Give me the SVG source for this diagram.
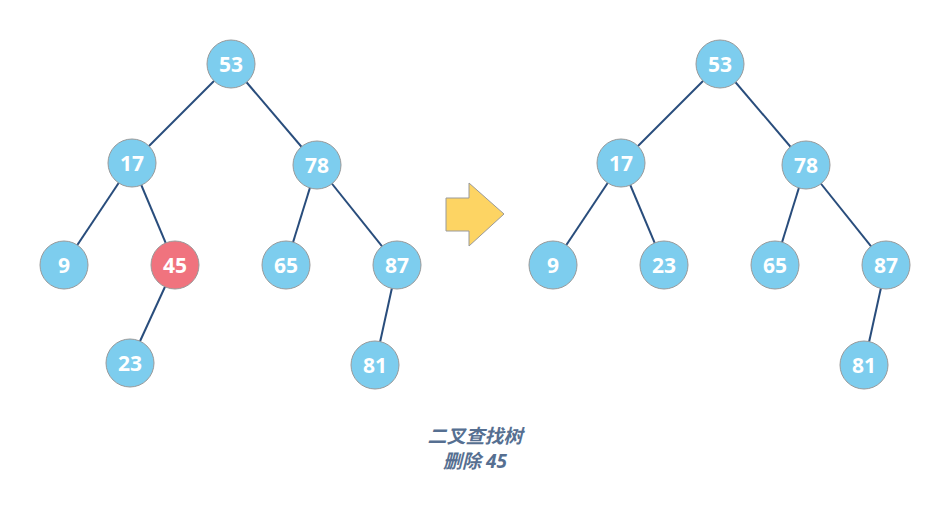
<svg xmlns="http://www.w3.org/2000/svg" width="947" height="505" viewBox="0 0 947 505">
<style>
.n{fill:#7dcdee;stroke:#9a9a9a;stroke-width:1}
.r{fill:#f0737e;stroke:#9a9a9a;stroke-width:1}
.t{font-family:"Open Sans","Noto Sans",sans-serif;font-weight:bold;font-size:21px;fill:#fff;text-anchor:middle;dominant-baseline:central}
.e line{stroke:#294d7c;stroke-width:2}
.cap{font-family:"Noto Sans","Noto Sans CJK SC",sans-serif;font-weight:bold;font-style:italic;font-size:19px;fill:#566f91;text-anchor:middle}
</style>
<rect width="947" height="505" fill="#fff"/>
<g id="connectors" class="e">
<line x1="231" y1="64" x2="132" y2="163"/>
<line x1="231" y1="64" x2="317" y2="165"/>
<line x1="132" y1="163" x2="64" y2="265"/>
<line x1="132" y1="163" x2="175" y2="265"/>
<line x1="317" y1="165" x2="286" y2="265"/>
<line x1="317" y1="165" x2="397" y2="265"/>
<line x1="175" y1="265" x2="130" y2="363"/>
<line x1="397" y1="265" x2="375" y2="365"/>
<line x1="720" y1="64" x2="621" y2="163"/>
<line x1="720" y1="64" x2="806" y2="165"/>
<line x1="621" y1="163" x2="553" y2="265"/>
<line x1="621" y1="163" x2="664" y2="265"/>
<line x1="806" y1="165" x2="775" y2="265"/>
<line x1="806" y1="165" x2="886" y2="265"/>
<line x1="886" y1="265" x2="864" y2="365"/>
</g>
<g id="L53"><circle class="n" cx="231" cy="64" r="24"/><text class="t" x="231" y="64">53</text></g>
<g id="L17"><circle class="n" cx="132" cy="163" r="24"/><text class="t" x="132" y="163">17</text></g>
<g id="L78"><circle class="n" cx="317" cy="165" r="24"/><text class="t" x="317" y="165">78</text></g>
<g id="L9"><circle class="n" cx="64" cy="265" r="24"/><text class="t" x="64" y="265">9</text></g>
<g id="L45"><circle class="r" cx="175" cy="265" r="24"/><text class="t" x="175" y="265">45</text></g>
<g id="L65"><circle class="n" cx="286" cy="265" r="24"/><text class="t" x="286" y="265">65</text></g>
<g id="L87"><circle class="n" cx="397" cy="265" r="24"/><text class="t" x="397" y="265">87</text></g>
<g id="L23"><circle class="n" cx="130" cy="363" r="24"/><text class="t" x="130" y="363">23</text></g>
<g id="L81"><circle class="n" cx="375" cy="365" r="24"/><text class="t" x="375" y="365">81</text></g>
<g id="R53"><circle class="n" cx="720" cy="64" r="24"/><text class="t" x="720" y="64">53</text></g>
<g id="R17"><circle class="n" cx="621" cy="163" r="24"/><text class="t" x="621" y="163">17</text></g>
<g id="R78"><circle class="n" cx="806" cy="165" r="24"/><text class="t" x="806" y="165">78</text></g>
<g id="R9"><circle class="n" cx="553" cy="265" r="24"/><text class="t" x="553" y="265">9</text></g>
<g id="R23"><circle class="n" cx="664" cy="265" r="24"/><text class="t" x="664" y="265">23</text></g>
<g id="R65"><circle class="n" cx="775" cy="265" r="24"/><text class="t" x="775" y="265">65</text></g>
<g id="R87"><circle class="n" cx="886" cy="265" r="24"/><text class="t" x="886" y="265">87</text></g>
<g id="R81"><circle class="n" cx="864" cy="365" r="24"/><text class="t" x="864" y="365">81</text></g>
<g id="arrow"><polygon points="446,198 469,198 469,183 504,214 469,246 469,231 446,231" fill="#fdd463" stroke="#9a9a9a" stroke-width="1"/></g>
<g id="caption"><text class="cap" x="475" y="443">二叉查找树</text><text class="cap" x="475" y="468">删除 45</text></g>
</svg>
